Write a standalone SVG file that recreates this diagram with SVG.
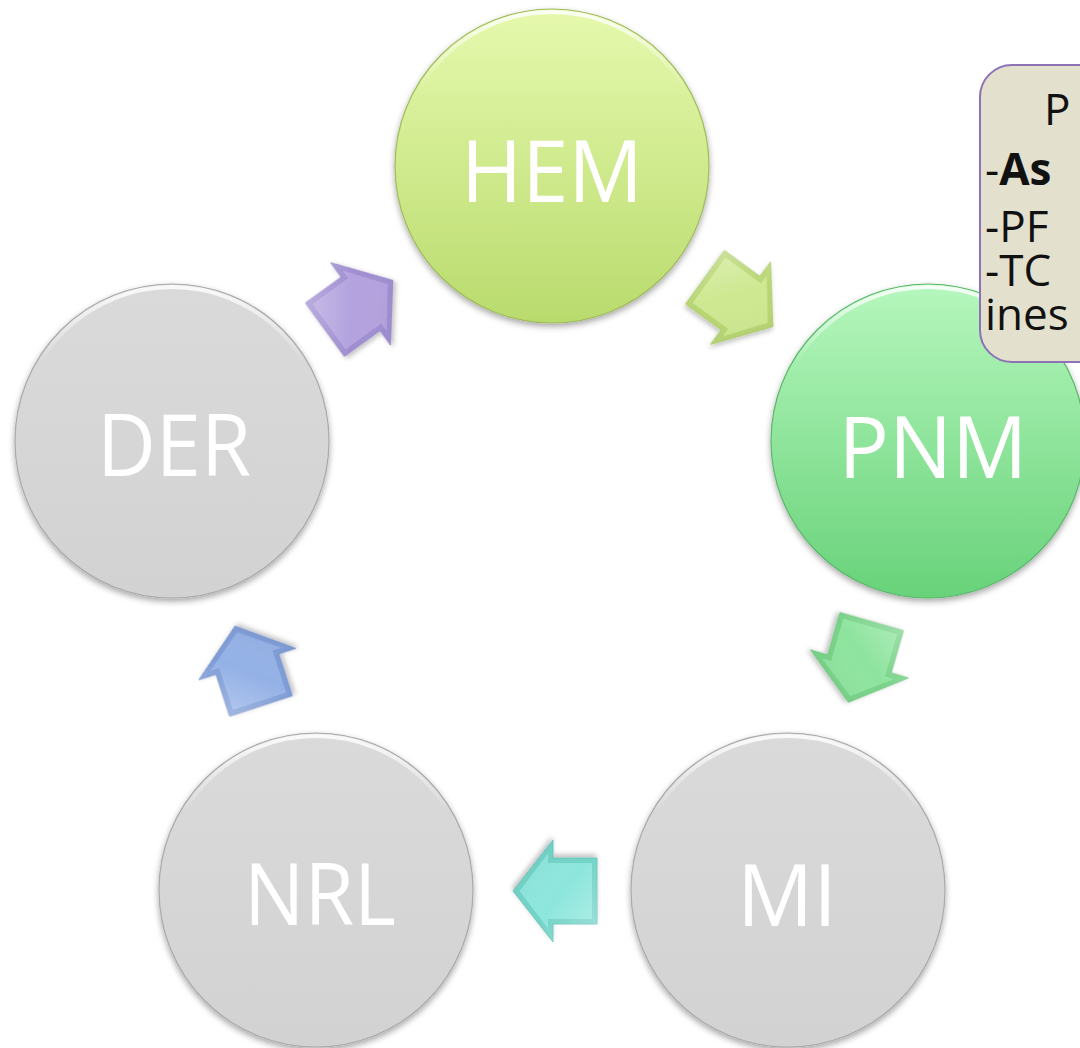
<svg xmlns="http://www.w3.org/2000/svg" width="1080" height="1048" viewBox="0 0 1080 1048">
<style>
.lbl{font-family:"Open Sans","Liberation Sans",sans-serif;font-size:86px;fill:#ffffff;text-anchor:middle}
.note{font-family:"Open Sans","Liberation Sans",sans-serif;font-size:44px;fill:#111111}
.rimline{fill:none;stroke:url(#rimHi);stroke-width:4}
</style>
<defs>
<linearGradient id="gHem" x1="0" y1="0" x2="0" y2="1"><stop offset="0" stop-color="#E6F9AE"/><stop offset="1" stop-color="#B9DB6D"/></linearGradient>
<linearGradient id="gPnm" x1="0" y1="0" x2="0" y2="1"><stop offset="0" stop-color="#B6F7BD"/><stop offset="1" stop-color="#68D27A"/></linearGradient>
<linearGradient id="gGray" x1="0" y1="0" x2="0" y2="1"><stop offset="0" stop-color="#DADADA"/><stop offset="1" stop-color="#D2D2D2"/></linearGradient>
<linearGradient id="rimHi" x1="0" y1="0" x2="0" y2="1"><stop offset="0" stop-color="#ffffff" stop-opacity="0.85"/><stop offset="0.25" stop-color="#ffffff" stop-opacity="0"/><stop offset="1" stop-color="#ffffff" stop-opacity="0"/></linearGradient>
<linearGradient id="hiA" x1="0" y1="0" x2="1" y2="1"><stop offset="0" stop-color="#ffffff" stop-opacity="0.35"/><stop offset="0.45" stop-color="#ffffff" stop-opacity="0"/><stop offset="1" stop-color="#000000" stop-opacity="0.08"/></linearGradient>
<filter id="sh" x="-20%" y="-20%" width="140%" height="140%"><feDropShadow dx="0" dy="3" stdDeviation="3" flood-color="#000" flood-opacity="0.35"/></filter>
<filter id="shA" x="-30%" y="-30%" width="160%" height="160%"><feDropShadow dx="1" dy="3" stdDeviation="2.5" flood-color="#000" flood-opacity="0.25"/></filter>
<polygon id="arrOuter" points="-42,-33 2,-33 2,-51 42,0 2,51 2,33 -42,33"/>
<polygon id="arrInner" points="-37,-28 7,-28 7,-37.5 35.5,0 7,37.5 7,28 -37,28"/>
</defs>
<rect width="1080" height="1048" fill="#ffffff"/>

<g id="connectors">
  <g id="arrow-hem-pnm" transform="translate(739,302) rotate(36)" filter="url(#shA)">
    <use href="#arrOuter" fill="#B7D671" stroke="#A6C660" stroke-width="0.8"/>
    <use href="#arrInner" fill="#CDE890"/>
    <use href="#arrOuter" fill="url(#hiA)"/>
  </g>
  <g id="arrow-pnm-mi" transform="translate(860,662) rotate(106)" filter="url(#shA)">
    <use href="#arrOuter" fill="#78D388" stroke="#68C278" stroke-width="0.8"/>
    <use href="#arrInner" fill="#8EE49E"/>
    <use href="#arrOuter" fill="url(#hiA)"/>
  </g>
  <g id="arrow-mi-nrl" transform="translate(555,891) rotate(180)" filter="url(#shA)">
    <use href="#arrOuter" fill="#72D3C7" stroke="#62C2B6" stroke-width="0.8"/>
    <use href="#arrInner" fill="#8DE6DC"/>
    <use href="#arrOuter" fill="url(#hiA)"/>
  </g>
  <g id="arrow-nrl-der" transform="translate(248,666) rotate(252)" filter="url(#shA)">
    <use href="#arrOuter" fill="#7E9CD6" stroke="#6E8CC8" stroke-width="0.8"/>
    <use href="#arrInner" fill="#94B1E6"/>
    <use href="#arrOuter" fill="url(#hiA)"/>
  </g>
  <g id="arrow-der-hem" transform="translate(359,305) rotate(324)" filter="url(#shA)">
    <use href="#arrOuter" fill="#A08ED2" stroke="#9080C4" stroke-width="0.8"/>
    <use href="#arrInner" fill="#B3A2DE"/>
    <use href="#arrOuter" fill="url(#hiA)"/>
  </g>
</g>

<g id="node-hem">
  <circle cx="552" cy="166" r="157" fill="url(#gHem)" stroke="#9FBB5C" stroke-width="1.2" filter="url(#sh)"/>
  <circle class="rimline" cx="552" cy="166" r="154"/>
  <text class="lbl" x="552" y="202" textLength="182" lengthAdjust="spacingAndGlyphs">HEM</text>
</g>
<g id="node-pnm">
  <circle cx="928" cy="441" r="157" fill="url(#gPnm)" stroke="#5BB86B" stroke-width="1.2" filter="url(#sh)"/>
  <circle class="rimline" cx="928" cy="441" r="154"/>
  <text class="lbl" x="933" y="478" textLength="189" lengthAdjust="spacingAndGlyphs">PNM</text>
</g>
<g id="node-mi">
  <circle cx="788" cy="890" r="157" fill="url(#gGray)" stroke="#A9A9A9" stroke-width="1.2" filter="url(#sh)"/>
  <circle class="rimline" cx="788" cy="890" r="154"/>
  <text class="lbl" x="787" y="926" textLength="100" lengthAdjust="spacingAndGlyphs">MI</text>
</g>
<g id="node-nrl">
  <circle cx="316" cy="890" r="157" fill="url(#gGray)" stroke="#A9A9A9" stroke-width="1.2" filter="url(#sh)"/>
  <circle class="rimline" cx="316" cy="890" r="154"/>
  <text class="lbl" x="320" y="925" textLength="152" lengthAdjust="spacingAndGlyphs">NRL</text>
</g>
<g id="node-der">
  <circle cx="172" cy="441" r="157" fill="url(#gGray)" stroke="#A9A9A9" stroke-width="1.2" filter="url(#sh)"/>
  <circle class="rimline" cx="172" cy="441" r="154"/>
  <text class="lbl" x="174" y="476" textLength="154" lengthAdjust="spacingAndGlyphs">DER</text>
</g>

<g id="callout">
  <rect x="980" y="65" width="260" height="297" rx="32" ry="32" fill="#E3E0CE" stroke="#8D72B5" stroke-width="2"/>
  <text class="note"><tspan x="1044" y="125">P</tspan><tspan x="985" y="185">-</tspan><tspan font-weight="bold">As</tspan><tspan x="985" y="242">-PF</tspan><tspan x="985" y="286">-TC</tspan><tspan x="985" y="330">ines</tspan></text>
</g>
</svg>
